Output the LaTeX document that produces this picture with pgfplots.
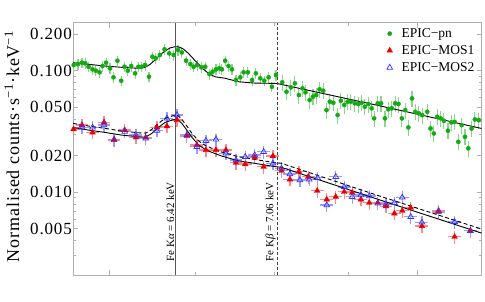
\documentclass[border=0pt]{standalone}
\usepackage{fontspec}
\setmainfont{Liberation Serif}
\usepackage{pgfplots}
\pgfplotsset{compat=1.18}
\definecolor{pngreen}{RGB}{20,170,20}
\definecolor{pnerr}{RGB}{135,215,135}
\definecolor{mosred}{RGB}{235,0,0}
\definecolor{moserra}{RGB}{255,135,135}
\definecolor{mosblue}{RGB}{50,50,255}
\definecolor{moserrb}{RGB}{155,155,255}
\definecolor{framegray}{RGB}{175,175,175}
\begin{document}
\begin{tikzpicture}
\begin{axis}[
  scale only axis, width=408.7pt, height=252.3pt,
  xmode=log, ymode=log,
  xmin=5.8, xmax=8.497, ymin=0.00208, ymax=0.2492,
  axis line style={framegray, line width=0.8pt},
  every tick/.style={framegray, line width=0.8pt},
  tick align=inside,
  major tick length=5pt, minor tick length=3pt,
  xtick={6,8}, minor xtick={6.5,7,7.5}, xticklabels={},
  ytick={0.005,0.01,0.02,0.05,0.1,0.2},
  yticklabels={0.005,0.010,0.020,0.050,0.100,0.200},
  minor ytick={0.003,0.004,0.006,0.007,0.008,0.009,0.03,0.04,0.06,0.07,0.08,0.09},
  /pgf/number format/assume math mode=true,
  yticklabel style={font=\fontsize{17}{17}\selectfont\addfontfeature{LetterSpace=5}, text=black, inner xsep=1pt},
  ylabel={Normalised counts·s\textsuperscript{−1}·keV\textsuperscript{−1}},
  ylabel style={font=\fontsize{18}{18}\selectfont\addfontfeature{LetterSpace=5}, at={(axis description cs:-0.132,0.51)}, anchor=base},
  legend style={at={(rel axis cs:0.765,0.99)}, anchor=north west, draw=none, fill=none,
    font=\fontsize{13.5}{14}\selectfont, row sep=2.5pt, column sep=7pt, inner sep=1pt},
  legend cell align=left,
  clip=true,
]
% EPIC-pn, lower energies
\addplot[only marks, mark=*, mark size=2.1pt, color=pngreen,
  error bars/.cd, y dir=both, y fixed relative=0.10, x dir=both, x fixed relative=0.0015,
  error mark=none, error bar style={pnerr, line width=1.1pt}]
  table[row sep=\\]{
5.804 0.1117\\ 5.827 0.1138\\ 5.849 0.1167\\ 5.867 0.1153\\ 5.885 0.1081\\
5.907 0.1029\\ 5.925 0.1003\\ 5.946 0.0972\\ 5.962 0.1096\\ 5.982 0.1167\\
6.004 0.1049\\ 6.024 0.0884\\ 6.046 0.1212\\ 6.067 0.0829\\ 6.086 0.1081\\
6.105 0.1003\\ 6.124 0.1096\\ 6.147 0.0954\\ 6.166 0.1081\\ 6.185 0.1081\\
6.204 0.1117\\ 6.227 0.0894\\ 6.247 0.1308\\ 6.266 0.1269\\ 6.291 0.1351\\
6.318 0.1504\\ 6.346 0.1394\\ 6.372 0.1351\\ 6.398 0.1485\\ 6.421 0.1418\\
6.446 0.1212\\ 6.472 0.1138\\ 6.492 0.1081\\ 6.513 0.1117\\ 6.539 0.1069\\
6.563 0.1081\\ 6.588 0.0942\\ 6.608 0.0983\\ 6.629 0.1029\\ 6.649 0.1049\\
6.666 0.1029\\ 6.686 0.1212\\ 6.707 0.1096\\ 6.729 0.1029\\ 6.754 0.0840\\
6.781 0.0884\\ 6.802 0.0972\\ 6.830 0.0972\\ 6.856 0.0840\\ 6.881 0.0954\\
6.909 0.0868\\ 6.935 0.0829\\ 6.963 0.0884\\ 6.985 0.0740\\ 7.011 0.0924\\
};
\addlegendentry{EPIC−pn}
% EPIC-MOS1
\addplot[only marks, mark=triangle*, mark size=3.3pt, color=mosred,
  error bars/.cd, y dir=both, y fixed relative=0.12, x dir=both, x fixed relative=0.006,
  error mark=none, error bar style={moserra, line width=1.3pt}]
  table[row sep=\\]{
5.803 0.0331\\ 5.849 0.0357\\ 5.907 0.0311\\ 5.971 0.0376\\ 6.027 0.02689\\
6.087 0.0325\\ 6.151 0.0283\\ 6.208 0.0283\\ 6.273 0.0342\\ 6.332 0.0350\\
6.392 0.0393\\ 6.451 0.0290\\ 6.512 0.02445\\ 6.567 0.02224\\ 6.629 0.02224\\
6.691 0.02224\\ 6.754 0.01747\\ 6.813 0.01705\\ 6.873 0.01935\\ 6.931 0.01619\\
6.991 0.01984\\ 7.048 0.01501\\ 7.103 0.01275\\ 7.163 0.01472\\ 7.226 0.01340\\
7.287 0.01027\\ 7.352 0.00872\\ 7.414 0.00917\\ 7.473 0.01008\\ 7.529 0.00989\\
7.591 0.00872\\ 7.650 0.00818\\ 7.711 0.00818\\ 7.771 0.00768\\ 7.832 0.00669\\
7.890 0.00703\\ 7.953 0.00744\\ 8.035 0.00526\\ 8.161 0.00689\\ 8.284 0.00429\\
8.407 0.00481\\
};
\addlegendentry{EPIC−MOS1}
% EPIC-MOS2
\addplot[only marks, mark=triangle, mark size=3.3pt, color=mosblue, mark options={line width=0.7pt},
  error bars/.cd, y dir=both, y fixed relative=0.12, x dir=both, x fixed relative=0.006,
  error mark=none, error bar style={moserrb, line width=1.3pt}]
  table[row sep=\\]{
5.849 0.0342\\ 5.907 0.0342\\ 5.971 0.0357\\ 6.027 0.0272\\ 6.087 0.0315\\
6.151 0.02956\\ 6.208 0.0278\\ 6.273 0.0321\\ 6.332 0.0406\\ 6.392 0.0432\\
6.451 0.02956\\ 6.512 0.02367\\ 6.567 0.02654\\ 6.629 0.0272\\ 6.691 0.02088\\
6.754 0.01839\\ 6.813 0.01957\\ 6.873 0.02022\\ 6.931 0.02153\\ 6.991 0.01727\\
7.048 0.01571\\ 7.103 0.01410\\ 7.170 0.01258\\ 7.233 0.01275\\ 7.290 0.01315\\
7.352 0.00783\\ 7.414 0.01340\\ 7.473 0.01107\\ 7.529 0.00917\\ 7.591 0.00947\\
7.650 0.00929\\ 7.711 0.00808\\ 7.771 0.00798\\ 7.832 0.00818\\ 7.890 0.00906\\
7.953 0.00627\\ 8.035 0.00564\\ 8.161 0.00703\\ 8.284 0.00570\\ 8.407 0.00481\\
};
\addlegendentry{EPIC−MOS2}
% EPIC-pn, higher energies
\addplot[forget plot, only marks, mark=*, mark size=2.1pt, color=pngreen,
  error bars/.cd, y dir=both, y fixed relative=0.15, x dir=both, x fixed relative=0.0015,
  error mark=none, error bar style={pnerr, line width=1.1pt}]
  table[row sep=\\]{
7.052 0.0804\\ 7.081 0.0673\\ 7.110 0.0731\\ 7.136 0.0789\\ 7.163 0.0632\\
7.187 0.0717\\ 7.207 0.0665\\ 7.236 0.0575\\ 7.258 0.0612\\ 7.280 0.0632\\
7.303 0.0704\\ 7.328 0.0686\\ 7.350 0.0475\\ 7.373 0.0557\\ 7.397 0.0546\\
7.427 0.0432\\ 7.450 0.0567\\ 7.473 0.0523\\ 7.497 0.0557\\ 7.520 0.0557\\
7.548 0.0540\\ 7.572 0.0533\\ 7.596 0.0546\\ 7.619 0.0506\\ 7.643 0.0533\\
7.667 0.0491\\ 7.686 0.0406\\ 7.711 0.0540\\ 7.735 0.0540\\ 7.764 0.0406\\
7.788 0.0482\\ 7.813 0.0491\\ 7.838 0.0540\\ 7.862 0.0533\\ 7.887 0.0406\\
7.911 0.0475\\ 7.936 0.0342\\ 7.962 0.0593\\ 7.987 0.0460\\ 8.012 0.0446\\
8.037 0.0432\\ 8.075 0.0460\\ 8.100 0.0335\\ 8.125 0.0305\\ 8.151 0.0418\\
8.177 0.0406\\ 8.202 0.0388\\ 8.233 0.0321\\ 8.259 0.0376\\ 8.284 0.0380\\
8.313 0.0260\\ 8.339 0.0357\\ 8.365 0.0286\\ 8.391 0.0230\\ 8.417 0.0335\\
8.443 0.0398\\ 8.474 0.0393\\
};
% model curves
\addplot[forget plot, black, line width=0.9pt] table[row sep=\\]{
5.800 0.1167\\ 5.885 0.1131\\ 5.976 0.1096\\ 6.070 0.1069\\ 6.166 0.1049\\
6.204 0.1069\\ 6.233 0.1131\\ 6.262 0.1228\\ 6.291 0.1351\\ 6.321 0.1457\\
6.350 0.1543\\ 6.380 0.1581\\ 6.404 0.1572\\ 6.430 0.1514\\ 6.460 0.1394\\
6.492 0.1252\\ 6.522 0.1138\\ 6.553 0.1029\\ 6.583 0.0954\\ 6.623 0.0894\\
6.686 0.0868\\ 6.770 0.0813\\ 6.877 0.0792\\ 6.985 0.0789\\ 7.020 0.0786\\
7.716 0.0518\\ 8.497 0.0335\\
};
\addplot[forget plot, black, line width=0.9pt] table[row sep=\\]{
5.800 0.0342\\ 5.885 0.0325\\ 5.976 0.0311\\ 6.070 0.02956\\ 6.166 0.0286\\
6.208 0.02847\\ 6.243 0.0305\\ 6.282 0.0342\\ 6.321 0.0376\\ 6.362 0.0393\\
6.392 0.0401\\ 6.421 0.0369\\ 6.451 0.0325\\ 6.482 0.0283\\ 6.523 0.02445\\
6.563 0.02252\\ 6.604 0.02128\\ 6.666 0.01984\\ 6.770 0.01815\\ 6.877 0.01727\\
6.985 0.01641\\ 7.048 0.01601\\ 7.716 0.00872\\ 8.497 0.00460\\
};
\addplot[forget plot, black, line width=0.9pt, dash pattern=on 4pt off 2.5pt] table[row sep=\\]{
5.800 0.0369\\ 5.885 0.0351\\ 5.976 0.0336\\ 6.070 0.0319\\ 6.166 0.0309\\
6.208 0.0307\\ 6.243 0.0329\\ 6.282 0.0369\\ 6.321 0.0406\\ 6.362 0.0424\\
6.392 0.0433\\ 6.421 0.0398\\ 6.451 0.0351\\ 6.482 0.0305\\ 6.523 0.0264\\
6.563 0.0243\\ 6.604 0.0230\\ 6.666 0.0214\\ 6.770 0.0196\\ 6.877 0.0186\\
6.985 0.0177\\ 7.048 0.0173\\ 7.716 0.00938\\ 8.497 0.00497\\
};
% line markers
\addplot[forget plot, color=black!65, line width=0.6pt] coordinates {(6.383,0.00208) (6.383,0.2492)};
\addplot[forget plot, color=black!75, line width=0.6pt, dash pattern=on 3pt off 2pt] coordinates {(7.017,0.00208) (7.017,0.2492)};
\node[rotate=90, anchor=south west, inner sep=1pt, font=\fontsize{11}{11}\selectfont]
  at (axis cs:6.383,0.00262) {Fe K{\itshape α} = 6.42 keV};
\node[rotate=90, anchor=south west, inner sep=1pt, font=\fontsize{11}{11}\selectfont]
  at (axis cs:7.017,0.00262) {Fe K{\itshape β} = 7.06 keV};
\end{axis}
\pgfresetboundingbox
\path[use as bounding box] ([xshift=-73pt,yshift=-26pt]current axis.south west) rectangle ([xshift=3.3pt,yshift=22.7pt]current axis.north east);
\end{tikzpicture}
\end{document}
